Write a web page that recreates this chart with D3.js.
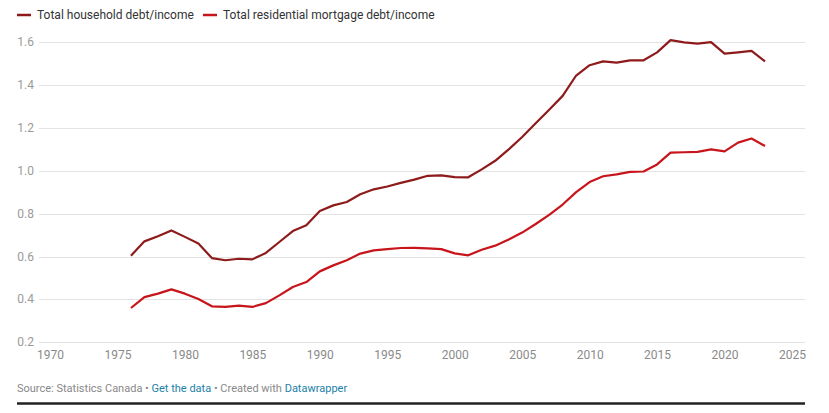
<!DOCTYPE html>
<html>
<head>
<meta charset="utf-8">
<script src="https://cdn.jsdelivr.net/npm/d3@7"></script>
<style>
  html, body { margin: 0; padding: 0; background: #fff; }
  svg { display: block; font-family: Roboto, "Noto Sans", Arial, sans-serif; }
</style>
</head>
<body>
<svg id="chart" width="829" height="413"></svg>
<script>
const years = d3.range(1976, 2024);
const householdDebtIncome = [
  0.604, 0.671, 0.695, 0.722, 0.692, 0.661, 0.593, 0.583, 0.590, 0.587,
  0.617, 0.668, 0.719, 0.746, 0.813, 0.839, 0.855, 0.891, 0.914, 0.927,
  0.944, 0.959, 0.977, 0.979, 0.971, 0.970, 1.007, 1.047, 1.100, 1.158,
  1.222, 1.285, 1.350, 1.445, 1.493, 1.511, 1.505, 1.516, 1.516, 1.553,
  1.610, 1.600, 1.594, 1.601, 1.547, 1.553, 1.560, 1.511
];
const mortgageDebtIncome = [
  0.360, 0.411, 0.427, 0.447, 0.427, 0.402, 0.368, 0.365, 0.371, 0.365,
  0.383, 0.419, 0.458, 0.481, 0.531, 0.559, 0.583, 0.614, 0.629, 0.635,
  0.640, 0.641, 0.638, 0.635, 0.615, 0.606, 0.632, 0.651, 0.680, 0.712,
  0.752, 0.795, 0.843, 0.901, 0.948, 0.975, 0.984, 0.995, 0.997, 1.030,
  1.085, 1.087, 1.089, 1.100, 1.091, 1.132, 1.151, 1.116
];
const seriesNames = ["Total household debt/income", "Total residential mortgage debt/income"];
const seriesColors = ["#8e1b1b", "#c8141b"];
const xTicks = d3.range(1970, 2026, 5);
const yTicks = [0.2, 0.4, 0.6, 0.8, 1.0, 1.2, 1.4, 1.6];

const svg = d3.select("#chart");
const x = d3.scaleLinear().domain([1970, 2025]).range([50, 792]);
const y = d3.scaleLinear().domain([0.2, 1.6]).range([342.3, 42.3]);

// gridlines
svg.append("g").selectAll("line").data(yTicks).join("line")
  .attr("x1", 39).attr("x2", 805)
  .attr("y1", d => Math.round(y(d)) + 0.5).attr("y2", d => Math.round(y(d)) + 0.5)
  .attr("stroke", "#e3e3e3").attr("stroke-width", 1);

// y labels
svg.append("g").selectAll("text").data(yTicks).join("text")
  .attr("x", 34).attr("y", d => y(d) + 4)
  .attr("text-anchor", "end")
  .attr("font-size", 12).attr("fill", "#9a9a9a")
  .text(d => d.toFixed(1));

// x axis labels
const xAxis = d3.axisBottom(x).tickValues(xTicks).tickFormat(d3.format("d")).tickSize(0).tickPadding(0);
const gx = svg.append("g").attr("transform", "translate(0,350)").call(xAxis);
gx.select(".domain").remove();
gx.selectAll("text").attr("font-size", 12).attr("fill", "#8a8a8a")
  .attr("font-family", "Roboto, sans-serif").attr("dy", "0.71em");

// lines
const line = d3.line().x((d, i) => x(years[i])).y(d => y(d)).curve(d3.curveLinear);
[householdDebtIncome, mortgageDebtIncome].forEach((vals, k) => {
  svg.append("path").datum(vals)
    .attr("d", line)
    .attr("fill", "none")
    .attr("stroke", seriesColors[k])
    .attr("stroke-width", 2.2)
    .attr("stroke-linejoin", "round")
    .attr("stroke-linecap", "butt");
});

// legend
const legendX = [17, 203];
seriesNames.forEach((name, k) => {
  const g = svg.append("g").attr("transform", `translate(${legendX[k]},15)`);
  g.append("line").attr("x1", 0).attr("x2", 14).attr("y1", 0).attr("y2", 0)
    .attr("stroke", seriesColors[k]).attr("stroke-width", 2.5);
  g.append("text").attr("x", 20).attr("y", 4.3)
    .attr("font-size", 12).attr("fill", "#333")
    .text(name);
});

// footer
const foot = svg.append("text").attr("x", 17).attr("y", 392).attr("font-size", 11).attr("fill", "#888");
foot.append("tspan").text("Source: Statistics Canada • ");
foot.append("tspan").attr("fill", "#1d7fa8").text("Get the data");
foot.append("tspan").text(" • Created with ");
foot.append("tspan").attr("fill", "#1d7fa8").text("Datawrapper");

svg.append("line").attr("x1", 17).attr("x2", 805).attr("y1", 403.5).attr("y2", 403.5)
  .attr("stroke", "#222").attr("stroke-width", 2.5);
</script>
</body>
</html>
